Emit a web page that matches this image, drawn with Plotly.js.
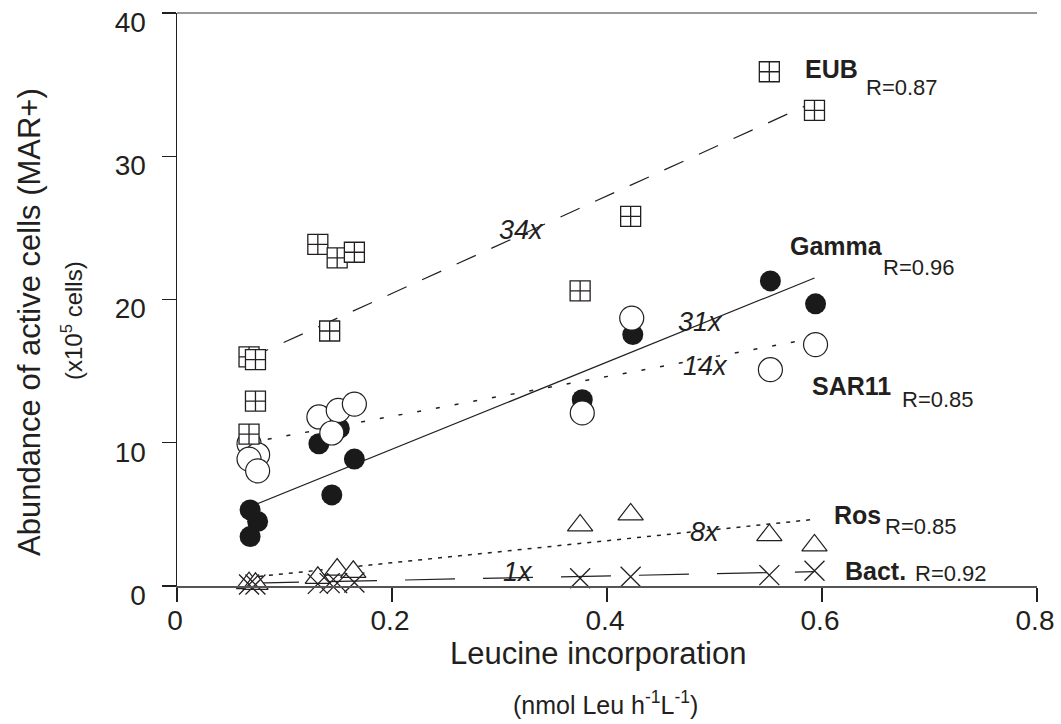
<!DOCTYPE html>
<html>
<head>
<meta charset="utf-8">
<script src="https://cdn.plot.ly/plotly-3.0.1.min.js"></script>
<style>html,body{margin:0;padding:0;background:#fff;}#chart{width:1061px;height:724px;}</style>
</head>
<body>
<div id="chart"></div>
<script>
// ---- data ----
const eubX   = [0.067, 0.073, 0.073, 0.067, 0.131, 0.149, 0.165, 0.142, 0.375, 0.422, 0.551, 0.593];
const eubY   = [16.0, 15.8, 12.9, 10.6, 23.85, 22.9, 23.3, 17.8, 20.6, 25.8, 35.9, 33.2];

const gammaX = [0.068, 0.075, 0.068, 0.132, 0.151, 0.165, 0.144, 0.377, 0.424, 0.552, 0.594];
const gammaY = [5.31, 4.5, 3.45, 9.93, 11.0, 8.86, 6.36, 13.0, 17.55, 21.3, 19.7];

const sarX   = [0.067, 0.075, 0.067, 0.075, 0.132, 0.150, 0.165, 0.144, 0.377, 0.423, 0.552, 0.594];
const sarY   = [9.93, 9.16, 8.86, 8.04, 11.8, 12.26, 12.7, 10.68, 12.08, 18.7, 15.1, 16.85];

const rosX   = [0.067, 0.073, 0.131, 0.149, 0.164, 0.375, 0.422, 0.551, 0.593];
const rosY   = [0.2, 0.15, 0.57, 1.15, 0.99, 4.23, 5.0, 3.55, 2.83];

const bactX  = [0.067, 0.073, 0.131, 0.142, 0.149, 0.165, 0.375, 0.422, 0.551, 0.593];
const bactY  = [0.1, 0.1, 0.15, 0.2, 0.2, 0.25, 0.54, 0.65, 0.76, 1.07];

// fitted lines (end points)
const fitX      = [0.067, 0.593];
const eubFitY   = [15.9, 33.8];
const gammaFitY = [5.5, 21.5];
const sarFitY   = [10.0, 17.3];
const rosFitY   = [0.6, 4.65];
const bactFitY  = [0.2, 1.0];

const groupNames = ['EUB', 'Gamma', 'SAR11', 'Ros', 'Bact.'];
const rValues    = ['R=0.87', 'R=0.96', 'R=0.85', 'R=0.85', 'R=0.92'];
const slopeLabels = ['34x', '31x', '14x', '8x', '1x'];

const xTicks = [0, 0.2, 0.4, 0.6, 0.8];
const xTickText = ['0', '0.2', '0.4', '0.6', '0.8'];
const yTicks = [0, 10, 20, 30, 40];
const yTickText = ['0', '10', '20', '30', '40'];

// ---- chart ----
const FONT = 'Liberation Sans, Arial, Helvetica, sans-serif';
const INK = '#231f20';

function fitLine(y, dash, w) {
  return {x: fitX, y: y, type: 'scatter', mode: 'lines', hoverinfo: 'skip',
          line: {color: INK, width: w, dash: dash}, showlegend: false, cliponaxis: false};
}
function pts(x, y, symbol, size, fill, lw) {
  return {x: x, y: y, type: 'scatter', mode: 'markers', showlegend: false, cliponaxis: false,
          marker: {symbol: symbol, size: size, color: fill, line: {color: INK, width: lw}}};
}

const traces = [
  fitLine(eubFitY, '21px,17px', 1.2),
  fitLine(gammaFitY, 'solid', 1.2),
  fitLine(sarFitY, '4px,15px', 1.5),
  fitLine(rosFitY, '4px,6px', 1.5),
  fitLine(bactFitY, '50px,28px', 1.2),
  pts(rosX, rosY, 'triangle-up', 22, '#ffffff', 1.2),
  pts(bactX, bactY, 'x-thin-open', 20, INK, 1.3),
  pts(gammaX, gammaY, 'circle', 21, '#1a1a1a', 0),
  pts(sarX, sarY, 'circle', 24, '#ffffff', 1.2),
  pts(eubX, eubY, 'square-cross', 20, '#ffffff', 1.3)
];

function lab(text, x, y, size, opts) {
  return Object.assign({text: text, x: x, y: y, xref: 'x', yref: 'y', showarrow: false,
    xanchor: 'left', yanchor: 'middle', font: {family: FONT, size: size, color: INK}}, opts || {});
}
function bold(t) { return '<b>' + t + '</b>'; }
function ital(t) { return '<i>' + t + '</i>'; }

const annotations = [
  lab(bold(groupNames[0]), 0.5821, 36.09, 25),
  lab(rValues[0], 0.6388, 34.81, 22),
  lab(bold(groupNames[1]), 0.5681, 23.73, 25),
  lab(rValues[1], 0.6546, 22.2, 22),
  lab(bold(groupNames[2]), 0.5886, 13.96, 25),
  lab(rValues[2], 0.6723, 13.05, 22),
  lab(bold(groupNames[3]), 0.6090, 4.96, 25),
  lab(rValues[3], 0.6565, 4.12, 22),
  lab(bold(groupNames[4]), 0.6193, 1.05, 25),
  lab(rValues[4], 0.6844, 0.84, 22),
  lab(ital(slopeLabels[0]), 0.3200, 24.85, 27, {xanchor: 'center'}),
  lab(ital(slopeLabels[1]), 0.4874, 18.43, 27, {xanchor: 'center'}),
  lab(ital(slopeLabels[2]), 0.4912, 15.36, 27, {xanchor: 'center'}),
  lab(ital(slopeLabels[3]), 0.4912, 3.77, 27, {xanchor: 'center'}),
  lab(ital(slopeLabels[4]), 0.3172, 0.98, 27, {xanchor: 'center'}),
  // axis titles
  {text: 'Abundance of active cells (MAR+)', xref: 'paper', yref: 'paper', x: -0.1721, y: 0.4607,
   xanchor: 'center', yanchor: 'middle', textangle: -90, showarrow: false,
   font: {family: FONT, size: 31, color: INK}},
  {text: '(x10<sup>5</sup> cells)', xref: 'paper', yref: 'paper', x: -0.1221, y: 0.4642,
   xanchor: 'center', yanchor: 'middle', textangle: -90, showarrow: false,
   font: {family: FONT, size: 24, color: INK}},
  {text: 'Leucine incorporation', xref: 'paper', yref: 'paper', x: 0.4895, y: -0.1170,
   xanchor: 'center', yanchor: 'middle', showarrow: false,
   font: {family: FONT, size: 31, color: INK}},
  {text: '(nmol Leu h<sup>-1</sup>L<sup>-1</sup>)', xref: 'paper', yref: 'paper', x: 0.4988, y: -0.2042,
   xanchor: 'center', yanchor: 'middle', showarrow: false,
   font: {family: FONT, size: 25, color: INK}}
];

const layout = {
  width: 1061, height: 724,
  margin: {l: 177, r: 24, t: 13, b: 138, pad: 0},
  paper_bgcolor: '#ffffff', plot_bgcolor: '#ffffff',
  showlegend: false,
  font: {family: FONT, color: INK},
  xaxis: {range: [0, 0.8], tickvals: xTicks, ticktext: xTickText, ticks: 'outside', ticklen: 14,
          tickwidth: 1.2, tickcolor: INK, showline: true, linecolor: '#555', linewidth: 1.5,
          showgrid: false, zeroline: false, automargin: false, ticklabelshift: -2,
          ticklabelstandoff: -5,
          tickfont: {family: FONT, size: 28, color: INK}},
  yaxis: {range: [0, 40], tickvals: yTicks, ticktext: yTickText, ticks: 'outside', ticklen: 14,
          tickwidth: 1.2, tickcolor: INK, showline: true, linecolor: INK, linewidth: 1.5,
          showgrid: false, zeroline: false, automargin: false, ticklabelshift: 9,
          ticklabelstandoff: 10,
          tickfont: {family: FONT, size: 28, color: INK}},
  shapes: [{type: 'line', xref: 'paper', yref: 'paper', x0: 0, x1: 1, y0: 1, y1: 1,
            line: {color: '#777', width: 1.5}}],
  annotations: annotations
};

Plotly.newPlot('chart', traces, layout, {staticPlot: true, displayModeBar: false});
</script>
</body>
</html>
